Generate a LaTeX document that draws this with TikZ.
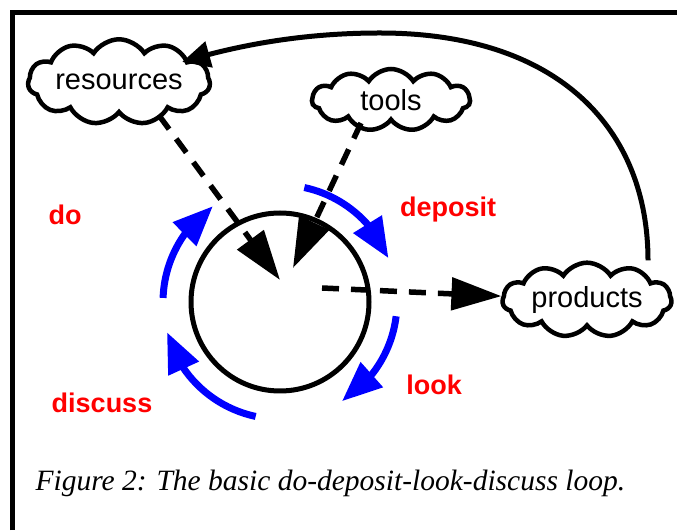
\documentclass[tikz,border=0pt]{standalone}
\usepackage{fontspec}
\setmainfont{Liberation Serif}
\setsansfont{Liberation Sans}
\usetikzlibrary{arrows.meta,bending,shapes.symbols,positioning}

\begin{document}
\begin{tikzpicture}[x=1pt,y=1pt,
    cloudbox/.style={draw, cloud, cloud puffs=11, cloud puff arc=115, aspect=3, line width=4.5pt, inner sep=0pt, font=\sffamily\fontsize{29}{30}\selectfont},
    stage/.style={text=red, font=\sffamily\bfseries\fontsize{27}{28}\selectfont},
    feed/.style={line width=5.5pt, dash pattern=on 17pt off 12pt, -{Triangle[length=50pt,width=32pt]}},
    cyclearrow/.style={draw=blue, line width=7pt, -{Triangle[length=40pt,width=32pt]}}]
        \useasboundingbox (0,0) rectangle (677,530);
        % frame
        \draw[line width=5pt] (12,0) -- (12,517) -- (677,517);

        \node[cloudbox, minimum width=172pt, minimum height=58pt] (resources) at (119,448) {resources};
        \node[cloudbox, minimum width=158pt, minimum height=62pt] (tools) at (391,430) {tools};
        \node[cloudbox, minimum width=169pt, minimum height=60pt] (products) at (587,230) {products};
        \node[draw, circle, line width=5pt, minimum size=178pt] (loop) at (280,228) {};

        \coordinate (resin) at (280,250);
        \coordinate (toolin) at (293,262);
        \coordinate (prodout) at (322,242);

        \draw [feed] ([xshift=40pt]resources.south) -- (resin);
        \draw [feed] ([xshift=-30pt]tools.south) -- (toolin);
        \draw [feed] (prodout) -- (products);
        \draw [line width=5pt, -{Triangle[length=28pt,width=26pt]}] ([xshift=61pt]products.north) .. controls (648,400) and (560,497) .. (380,497) .. controls (300,497) and (235,484) .. ([shift={(-30pt,20pt)}]resources.east);

        % the four steps round the loop
        \foreach \s/\e in {78/22, -7/-58, -102/-165, 178/125}
            \draw [cyclearrow] ([shift={(\s:117)}]loop.center) arc[start angle=\s, end angle=\e, radius=117];

        \node[stage] (do) at (65,315) {do};
        \node[stage] (deposit) at (448,320) {deposit};
        \node[stage] (look) at (434,145) {look};
        \node[stage] (discuss) at (102,127) {discuss};

        \node[anchor=west, font=\itshape\fontsize{29.5}{32}\selectfont] (caption) at (32,47) {Figure 2: The basic do-deposit-look-discuss loop.};
\end{tikzpicture}
\end{document}
